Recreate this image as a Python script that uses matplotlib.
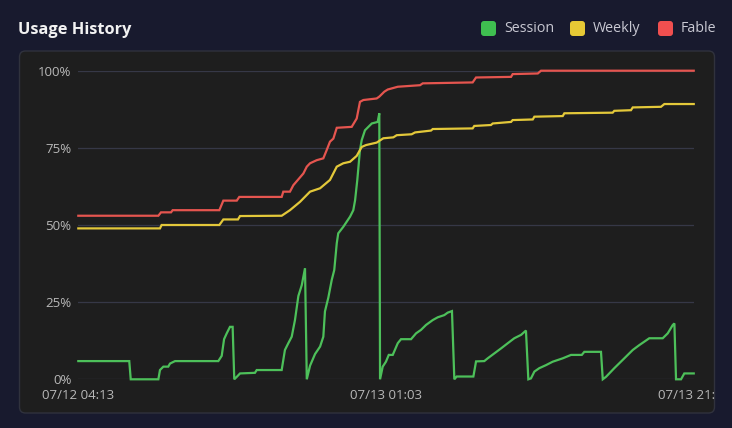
import matplotlib
matplotlib.use("Agg")
import matplotlib.pyplot as plt
from matplotlib.patches import FancyBboxPatch
from matplotlib.transforms import IdentityTransform, Bbox

# hours since 07/12 04:13, usage in percent
fable_t = [0, 5.42, 5.60, 6.28, 6.39, 9.55, 9.82, 10.73, 10.90, 13.77, 13.88, 14.33,
           14.56, 15.24, 15.47, 15.69, 16.14, 16.59, 16.82, 17.04, 17.27, 17.50, 18.51,
           18.85, 19.07, 19.30, 20.20, 20.38, 20.72, 20.95, 21.63, 23.14, 23.32, 26.70,
           26.93, 29.30, 29.41, 31.11, 31.33, 41.67]
fable_v = [53.0, 53.0, 54.1, 54.1, 54.8, 54.8, 57.9, 57.9, 59.1, 59.1, 60.8, 60.8,
           62.9, 66.7, 68.9, 70.0, 71.0, 71.6, 74.3, 77.0, 78.0, 81.5, 81.8,
           84.5, 89.9, 90.5, 91.0, 91.6, 93.2, 93.9, 94.8, 95.3, 95.9, 96.2,
           97.8, 98.0, 98.9, 99.1, 100, 100]

weekly_t = [0, 5.53, 5.64, 9.55, 9.82, 10.81, 10.95, 13.77, 14.33, 15.01, 15.69, 16.37,
            17.04, 17.50, 17.94, 18.40, 18.85, 19.19, 19.48, 20.20, 20.65, 21.33, 21.56,
            22.57, 22.80, 23.88, 24.00, 26.70, 26.81, 27.94, 28.06, 29.30, 29.41, 30.77,
            30.88, 32.80, 32.91, 36.18, 36.29, 37.42, 37.54, 39.45, 39.68, 41.67]
weekly_v = [48.9, 48.9, 50.0, 50.0, 51.8, 51.8, 52.9, 53.0, 54.8, 57.5, 60.8, 61.9,
            64.6, 68.9, 70.0, 70.5, 72.4, 75.3, 75.9, 76.7, 78.1, 78.4, 79.1,
            79.4, 80.0, 80.6, 81.1, 81.3, 82.1, 82.4, 82.9, 83.4, 84.0, 84.2,
            85.1, 85.3, 86.2, 86.4, 87.0, 87.2, 88.1, 88.3, 89.2, 89.2]

session_t = [0, 3.45, 3.55, 5.42, 5.53, 5.76, 6.09, 6.21, 6.55, 9.48, 9.71, 9.87, 10.05,
             10.27, 10.45, 10.56, 10.73, 10.95, 11.96, 12.08, 13.77, 13.99, 14.22, 14.45,
             14.67, 14.90, 15.13, 15.35, 15.47, 15.69, 16.03, 16.37, 16.59, 16.70, 16.93,
             17.16, 17.33, 17.50, 17.60, 17.94, 18.40, 18.62, 18.74, 18.89, 19.07, 19.19,
             19.41, 19.64, 19.87, 20.27, 20.38, 20.43, 20.61, 20.83, 21.02, 21.29, 21.63,
             21.85, 22.53, 22.87, 23.20, 23.54, 24.00, 24.34, 24.78, 25.01, 25.30, 25.46,
             25.62, 26.75, 26.93, 27.49, 27.72, 28.17, 28.62, 29.08, 29.52, 29.98, 30.31,
             30.47, 30.65, 30.88, 31.21, 31.67, 32.12, 32.80, 33.36, 34.09, 34.26, 35.39,
             35.51, 35.73, 36.29, 36.97, 37.54, 37.99, 38.66, 39.57, 39.91, 40.25, 40.36,
             40.47, 40.81, 41.03, 41.67]
session_v = [5.9, 5.9, 0, 0, 3.0, 4.1, 4.1, 5.1, 5.9, 5.9, 7.6, 13.0, 14.9,
             17.0, 17.0, 0, 0.8, 1.9, 2.1, 3.0, 3.0, 9.5, 11.7, 13.8,
             19.2, 27.0, 30.5, 36.0, 0, 4.4, 8.2, 10.6, 13.8, 22.0, 26.5,
             32.2, 35.4, 44.1, 47.3, 49.4, 52.7, 54.8, 58.0, 64.6, 74.3, 77.5,
             80.7, 81.8, 82.9, 83.4, 86.2, 0, 4.1, 5.7, 7.9, 7.9, 11.7,
             13.0, 13.0, 14.9, 16.0, 17.6, 19.2, 20.1, 20.8, 21.6, 22.1, 0,
             0.9, 0.9, 5.8, 5.9, 6.8, 8.4, 10.0, 11.7, 13.3, 14.4, 15.8,
             0, 0.3, 2.5, 3.6, 4.6, 5.7, 6.8, 7.9, 7.9, 8.9, 8.9,
             0, 0.8, 3.6, 6.8, 9.5, 11.1, 13.3, 13.3, 14.9, 17.6, 18.1,
             0, 0, 1.9, 1.9]

series_names = ["Session", "Weekly", "Fable"]
line_colors = ["#4dc05a", "#e3c83a", "#e5554f"]
legend_colors = ["#3fbf50", "#e6c935", "#f04f4f"]
y_ticks = [0, 25, 50, 75, 100]
x_ticks = [0, 20.833, 41.667]
x_labels = ["07/12 04:13", "07/13 01:03", "07/13 21:53"]

W, H = 732, 428
fig = plt.figure(figsize=(W / 100, H / 100), dpi=100, facecolor="#181a2e")
plt.rcParams["font.family"] = ["Open Sans", "DejaVu Sans"]

# card behind the chart
panel = FancyBboxPatch((19.5, H - 413), 695, 362, boxstyle="round,pad=0,rounding_size=6",
                       transform=IdentityTransform(), facecolor="#1e1e1e",
                       edgecolor="#30323d", linewidth=1, zorder=-5)
fig.patches.append(panel)

ax = fig.add_axes([78.3 / W, 1 - 379.3 / H, 615.4 / W, 308.6 / H])
ax.set_facecolor("none")
ax.set_xlim(0, 41.667)
ax.set_ylim(0, 100)
for s in ax.spines.values():
    s.set_visible(False)

ax.set_yticks(y_ticks)
ax.set_yticklabels([f"{v}%" for v in y_ticks])
ax.set_xticks(x_ticks)
ax.set_xticklabels(x_labels)
ax.tick_params(length=0, colors="#b8b8b8", labelsize=9.5)
ax.tick_params(axis="y", pad=5)
ax.tick_params(axis="x", pad=7)
ax.grid(axis="y", color="#363847", linewidth=0.9)
ax.grid(axis="x", visible=False)
ax.set_axisbelow(True)

for t, v, c in [(session_t, session_v, line_colors[0]),
                (weekly_t, weekly_v, line_colors[1]),
                (fable_t, fable_v, line_colors[2])]:
    ax.plot(t, v, color=c, linewidth=1.6, clip_on=False, solid_joinstyle="miter")

fig.text(18 / W, 1 - 30 / H, "Usage History", color="#f2f2f2", fontsize=11.8,
         fontweight="bold", va="center", ha="left")

# legend
sq_x = [481, 570, 658]
for name, c, x in zip(series_names, legend_colors, sq_x):
    sq = FancyBboxPatch((x, H - 36), 15, 15, boxstyle="round,pad=0,rounding_size=3",
                        transform=IdentityTransform(), facecolor=c, edgecolor="none")
    fig.patches.append(sq)
    fig.text((x + 23) / W, 1 - 29 / H, name, color="#c8c8d2", fontsize=10.3,
             va="center", ha="left")

# the last date label is cut off by the card edge
fig.canvas.draw()
card_box = Bbox.from_extents(19.5, 0, 714.5, H)
for lab in ax.get_xticklabels():
    lab.set_clip_box(card_box)
    lab.set_clip_on(True)

fig.savefig("out.png", dpi=100, facecolor=fig.get_facecolor())
